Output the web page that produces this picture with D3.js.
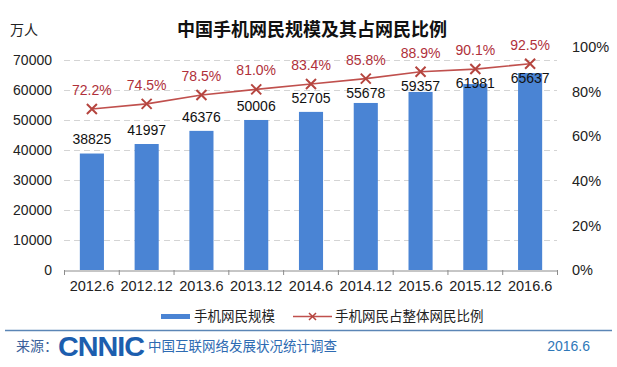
<!DOCTYPE html>
<html><head><meta charset="utf-8">
<script src="https://cdn.jsdelivr.net/npm/d3@7"></script>
<style>
html,body{margin:0;padding:0;background:#fff;}
svg{display:block;font-family:"Liberation Sans",Arial,"Noto Sans CJK SC",sans-serif;}
</style></head>
<body>
<svg id="chart" width="617" height="367"></svg>
<script>
const categories = ["2012.6","2012.12","2013.6","2013.12","2014.6","2014.12","2015.6","2015.12","2016.6"];
const users = [38825,41997,46376,50006,52705,55678,59357,61981,65637];
const ratio = [72.2,74.5,78.5,81.0,83.4,85.8,88.9,90.1,92.5];
const leftTicks = [0,10000,20000,30000,40000,50000,60000,70000];
const rightTicks = [0,20,40,60,80,100];

const svg = d3.select("#chart");
const cjk = '"Noto Sans CJK SC","Liberation Sans",sans-serif';

const x = d3.scaleBand().domain(categories).range([64.5, 557.5]).paddingInner(0.56).paddingOuter(0.28);
const y = d3.scaleLinear().domain([0,70000]).range([270,60]);
const y2 = d3.scaleLinear().domain([0,100]).range([270,47]);

// gridlines
svg.append("g").selectAll("line").data(leftTicks.filter(d=>d>0)).join("line")
  .attr("x1",64).attr("x2",557).attr("y1",d=>y(d)+0.5).attr("y2",d=>y(d)+0.5)
  .attr("stroke","#d4d4d4").attr("stroke-dasharray","6,4").attr("stroke-width",1);

// bars
svg.append("g").selectAll("rect").data(users).join("rect")
  .attr("x",(d,i)=>x(categories[i])).attr("width",x.bandwidth())
  .attr("y",d=>y(d)).attr("height",d=>y(0)-y(d))
  .attr("fill","#4a84d4");

// x axis baseline and ticks
const xAxis = d3.axisBottom(x).tickSize(0).tickPadding(10);
const gx = svg.append("g").attr("transform","translate(0,270.5)").call(xAxis);
gx.select(".domain").attr("stroke","#8c8c8c");
gx.selectAll("text").attr("font-size","14.5px").attr("fill","#222").attr("font-family","Liberation Sans, Arial, sans-serif");
const step = x.step();
const bounds = d3.range(categories.length+1).map(i=>64.5+ i*step);
svg.append("g").selectAll("line").data(bounds).join("line")
  .attr("x1",d=>d).attr("x2",d=>d).attr("y1",270).attr("y2",275)
  .attr("stroke","#8c8c8c");

// left axis labels
const yAxis = d3.axisLeft(y).tickValues(leftTicks).tickSize(0).tickPadding(12).tickFormat(d3.format("d"));
const gy = svg.append("g").attr("transform","translate(64,0)").call(yAxis);
gy.select(".domain").remove();
gy.selectAll("text").attr("font-size","14px").attr("fill","#222").attr("font-family","Liberation Sans, Arial, sans-serif");

// right axis labels
const y2Axis = d3.axisRight(y2).tickValues(rightTicks).tickSize(0).tickPadding(15).tickFormat(d=>d+"%");
const gy2 = svg.append("g").attr("transform","translate(557,0)").call(y2Axis);
gy2.select(".domain").remove();
gy2.selectAll("text").attr("font-size","14.5px").attr("fill","#222").attr("font-family","Liberation Sans, Arial, sans-serif");

// line
const cx = (i)=>x(categories[i])+x.bandwidth()/2;
const line = d3.line().x((d,i)=>cx(i)).y(d=>y2(d));
svg.append("path").datum(ratio).attr("d",line).attr("fill","none")
  .attr("stroke","#c0504d").attr("stroke-width",1.6);
const mk = svg.append("g").selectAll("g").data(ratio).join("g")
  .attr("transform",(d,i)=>`translate(${cx(i)},${y2(d)})`);
mk.append("path").attr("d","M-5,-5L5,5M-5,5L5,-5").attr("stroke","#b5453f").attr("stroke-width",2);

// bar value labels
svg.append("g").selectAll("text").data(users).join("text")
  .attr("x",(d,i)=>cx(i))
  .attr("y",(d,i)=>Math.max(y(d)-14, y2(ratio[i])+14))
  .attr("dy","0.35em").attr("text-anchor","middle")
  .attr("font-size","14px").attr("fill","#111").text(d=>d);

// ratio labels
svg.append("g").selectAll("text").data(ratio).join("text")
  .attr("x",(d,i)=>cx(i)).attr("y",d=>y2(d)-19).attr("dy","0.35em")
  .attr("text-anchor","middle").attr("font-size","14px").attr("fill","#b0303a")
  .text(d=>d.toFixed(1)+"%");

// title
svg.append("text").attr("x",312).attr("y",30).attr("dy","0.35em").attr("text-anchor","middle")
  .attr("font-family",cjk).attr("font-weight","bold").attr("font-size","18px").attr("fill","#111")
  .text("中国手机网民规模及其占网民比例");
svg.append("text").attr("x",10).attr("y",30).attr("dy","0.35em")
  .attr("font-family",cjk).attr("font-size","14px").attr("fill","#222").text("万人");

// legend
const lg = svg.append("g");
lg.append("rect").attr("x",161).attr("y",314).attr("width",29).attr("height",5).attr("fill","#4a84d4");
lg.append("text").attr("x",194).attr("y",316.5).attr("dy","0.35em").attr("font-family",cjk)
  .attr("font-size","13.5px").attr("fill","#222").text("手机网民规模");
lg.append("line").attr("x1",293).attr("x2",332).attr("y1",316.5).attr("y2",316.5).attr("stroke","#c0504d").attr("stroke-width",1.5);
lg.append("path").attr("transform","translate(312.5,316.5)").attr("d","M-3.5,-3.5L3.5,3.5M-3.5,3.5L3.5,-3.5").attr("stroke","#b5453f").attr("stroke-width",1.5);
lg.append("text").attr("x",335).attr("y",316.5).attr("dy","0.35em").attr("font-family",cjk)
  .attr("font-size","13.5px").attr("fill","#222").text("手机网民占整体网民比例");

// footer
svg.append("line").attr("x1",5).attr("x2",612).attr("y1",330.5).attr("y2",330.5).attr("stroke","#5b86b6").attr("stroke-width",1.5);
svg.append("text").attr("x",16).attr("y",346).attr("dy","0.35em").attr("font-family",cjk)
  .attr("font-size","14px").attr("fill","#3a5f9a").text("来源：");
svg.append("text").attr("x",58).attr("y",346).attr("dy","0.36em").attr("font-family","Liberation Sans, Arial, sans-serif")
  .attr("font-weight","bold").attr("font-size","28px").attr("letter-spacing","-1px").attr("fill","#1c5eae")
  .attr("textLength",86).attr("lengthAdjust","spacingAndGlyphs").text("CNNIC");
svg.append("text").attr("x",148).attr("y",346).attr("dy","0.35em").attr("font-family",cjk)
  .attr("font-size","13.5px").attr("fill","#2e6bb2").text("中国互联网络发展状况统计调查");
svg.append("text").attr("x",590).attr("y",346).attr("dy","0.35em").attr("text-anchor","end")
  .attr("font-family","Liberation Sans, Arial, sans-serif").attr("font-size","14px").attr("fill","#2f78b8").text("2016.6");
</script>
</body></html>
